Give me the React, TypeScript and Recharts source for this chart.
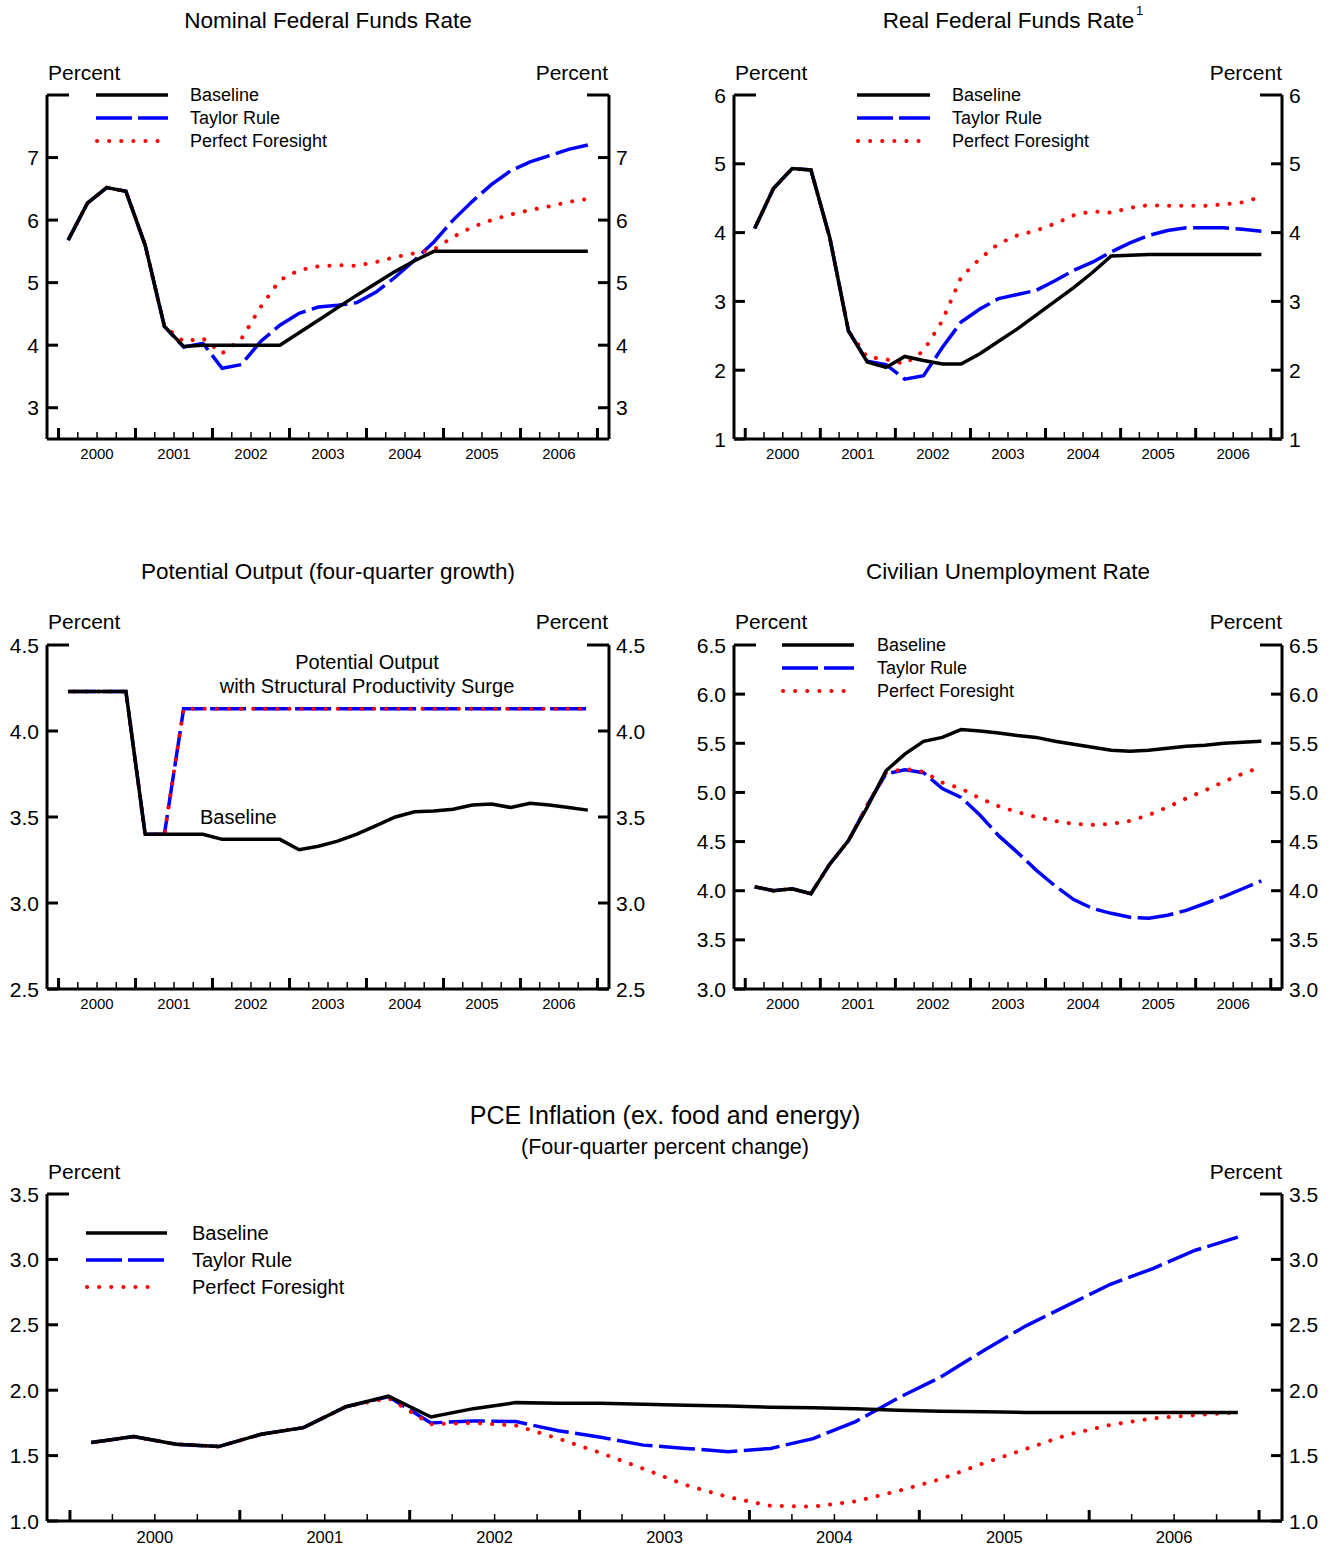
import React from "react";
import { LineChart, Line, XAxis, YAxis } from "recharts";

const FONT = '"Liberation Sans", Arial, Helvetica, sans-serif';

const YEARS = [2000, 2001, 2002, 2003, 2004, 2005, 2006];
const QUARTERS = [1, 2, 3, 4];

// Nominal federal funds rate, 2000Q1-2006Q4
const NOM_BASE = [5.68, 6.27, 6.52, 6.46, 5.6, 4.3, 3.98, 4.0, 4.0, 4.0, 4.0, 4.0, 4.2, 4.4, 4.6, 4.8, 4.99, 5.18, 5.35, 5.5, 5.5, 5.5, 5.5, 5.5, 5.5, 5.5, 5.5, 5.5];
const NOM_TAYLOR = [5.68, 6.27, 6.52, 6.46, 5.6, 4.3, 3.97, 4.03, 3.63, 3.69, 4.06, 4.32, 4.51, 4.61, 4.64, 4.68, 4.85, 5.09, 5.36, 5.65, 6.0, 6.3, 6.57, 6.79, 6.93, 7.03, 7.13, 7.2];
const NOM_PF = [5.68, 6.27, 6.52, 6.46, 5.6, 4.3, 4.06, 4.11, 3.87, 4.1, 4.61, 5.04, 5.2, 5.26, 5.28, 5.27, 5.33, 5.41, 5.47, 5.53, 5.73, 5.89, 6.0, 6.09, 6.16, 6.22, 6.29, 6.34];

// Real federal funds rate
const REAL_BASE = [4.06, 4.64, 4.93, 4.91, 3.93, 2.57, 2.12, 2.04, 2.2, 2.14, 2.09, 2.09, 2.24, 2.42, 2.6, 2.8, 3.0, 3.2, 3.42, 3.66, 3.67, 3.68, 3.68, 3.68, 3.68, 3.68, 3.68, 3.68];
const REAL_TAYLOR = [4.06, 4.64, 4.93, 4.91, 3.93, 2.57, 2.13, 2.08, 1.87, 1.92, 2.33, 2.7, 2.89, 3.04, 3.1, 3.16, 3.3, 3.45, 3.57, 3.72, 3.85, 3.96, 4.03, 4.07, 4.07, 4.07, 4.05, 4.02];
const REAL_PF = [4.06, 4.64, 4.93, 4.91, 3.93, 2.57, 2.19, 2.16, 2.09, 2.28, 2.72, 3.35, 3.62, 3.84, 3.96, 4.03, 4.13, 4.25, 4.31, 4.29, 4.36, 4.4, 4.39, 4.39, 4.39, 4.41, 4.44, 4.52];

// Potential output growth
const POT_BASE = [4.23, 4.23, 4.23, 4.23, 3.4, 3.4, 3.4, 3.4, 3.37, 3.37, 3.37, 3.37, 3.31, 3.33, 3.36, 3.4, 3.45, 3.5, 3.53, 3.535, 3.545, 3.57, 3.575, 3.555, 3.58, 3.57, 3.555, 3.54];
const POT_SURGE = [4.23, 4.23, 4.23, 4.23, 3.4, 3.4, 4.13, 4.13, 4.13, 4.13, 4.13, 4.13, 4.13, 4.13, 4.13, 4.13, 4.13, 4.13, 4.13, 4.13, 4.13, 4.13, 4.13, 4.13, 4.13, 4.13, 4.13, 4.13];

// Civilian unemployment rate
const UNEMP_BASE = [4.04, 4.0, 4.02, 3.97, 4.27, 4.51, 4.85, 5.22, 5.39, 5.52, 5.56, 5.64, 5.625, 5.605, 5.58, 5.56, 5.52, 5.49, 5.46, 5.43, 5.42, 5.43, 5.45, 5.47, 5.48, 5.5, 5.51, 5.52];
const UNEMP_TAYLOR = [4.04, 4.0, 4.02, 3.97, 4.27, 4.51, 4.87, 5.19, 5.23, 5.2, 5.04, 4.95, 4.77, 4.56, 4.39, 4.21, 4.05, 3.91, 3.82, 3.77, 3.73, 3.72, 3.75, 3.8, 3.87, 3.94, 4.02, 4.1];
const UNEMP_PF = [4.04, 4.0, 4.02, 3.97, 4.27, 4.51, 4.87, 5.2, 5.24, 5.21, 5.1, 5.04, 4.94, 4.86, 4.8, 4.75, 4.71, 4.68, 4.67, 4.68, 4.71, 4.77, 4.85, 4.94, 5.02, 5.11, 5.19, 5.26];

// Core PCE inflation
const PCE_BASE = [1.6, 1.645, 1.587, 1.569, 1.663, 1.714, 1.874, 1.955, 1.795, 1.859, 1.905, 1.9, 1.9, 1.893, 1.884, 1.879, 1.87, 1.865, 1.858, 1.847, 1.84, 1.835, 1.83, 1.83, 1.83, 1.83, 1.83, 1.83];
const PCE_TAYLOR = [1.6, 1.645, 1.587, 1.569, 1.663, 1.714, 1.874, 1.95, 1.75, 1.765, 1.76, 1.69, 1.64, 1.58, 1.555, 1.53, 1.555, 1.63, 1.76, 1.94, 2.1, 2.3, 2.49, 2.65, 2.81, 2.93, 3.07, 3.17];
const PCE_PF = [1.6, 1.645, 1.587, 1.569, 1.663, 1.714, 1.874, 1.94, 1.74, 1.75, 1.73, 1.63, 1.52, 1.4, 1.275, 1.183, 1.116, 1.11, 1.15, 1.23, 1.32, 1.44, 1.55, 1.66, 1.735, 1.785, 1.81, 1.83];

const NOM_TICKS = [3, 4, 5, 6, 7, 8];
const REAL_TICKS = [1, 2, 3, 4, 5, 6];
const POT_TICKS = [2.5, 3.0, 3.5, 4.0, 4.5];
const UNEMP_TICKS = [3.0, 3.5, 4.0, 4.5, 5.0, 5.5, 6.0, 6.5];
const PCE_TICKS = [1.0, 1.5, 2.0, 2.5, 3.0, 3.5];

const LEGEND_NAMES = ["Baseline", "Taylor Rule", "Perfect Foresight"];

// quarter midpoints in fractional years, and quarter boundaries for tick marks
const DATES = YEARS.flatMap((y) => QUARTERS.map((q) => y + (q - 0.5) / 4));
const QTR_TICKS = [...YEARS.flatMap((y) => QUARTERS.map((q) => y + (q - 1) / 4)), 2007];

const BLUE = "#0000ff";
const RED = "#ff0000";
const DASH = "36 6.5";
const DOTS = "0.1 12";

function rows(base: number[], taylor: number[], pf: number[]) {
  return DATES.map((t, i) => ({ t, base: base[i], taylor: taylor[i], pf: pf[i] }));
}

function makeXTick(fontSize: number, gap: number) {
  return (props: any) => {
    const { x, y, payload } = props;
    const v = payload.value;
    const major = Number.isInteger(v);
    const label = Math.abs((v % 1) - 0.5) < 1e-6;
    return (
      <g>
        <line x1={x} x2={x} y1={y} y2={y - (major ? 11 : 7)} stroke="#000" strokeWidth={major ? 3 : 1.5} />
        {label && (
          <text x={x} y={y + gap} dy="0.72em" textAnchor="middle" fontSize={fontSize} fontFamily={FONT} fill="#000">
            {Math.floor(v)}
          </text>
        )}
      </g>
    );
  };
}

function makeYTick(side: "left" | "right", top: number, hidden: number[], digits: number) {
  return (props: any) => {
    const { x, y, payload } = props;
    const v = payload.value;
    const len = v === top ? 22 : 11;
    const dir = side === "left" ? 1 : -1;
    return (
      <g>
        <line x1={x} x2={x + dir * len} y1={y} y2={y} stroke="#000" strokeWidth={3} />
        {!hidden.includes(v) && (
          <text
            x={side === "left" ? x - 8 : x + 7}
            y={y}
            dominantBaseline="central"
            textAnchor={side === "left" ? "end" : "start"}
            fontSize={21}
            fontFamily={FONT}
            fill="#000"
          >
            {v.toFixed(digits)}
          </text>
        )}
      </g>
    );
  };
}

function seriesLines(keys: { base: string; taylor: string; pf: string }) {
  return [
    <Line key="taylor" yAxisId="left" dataKey={keys.taylor} type="linear" stroke={BLUE} strokeWidth={3.5} strokeDasharray={DASH} strokeDashoffset={8} dot={false} activeDot={false} isAnimationActive={false} />,
    <Line key="pf" yAxisId="left" dataKey={keys.pf} type="linear" stroke={RED} strokeWidth={4} strokeDasharray={DOTS} strokeDashoffset={6} strokeLinecap="round" dot={false} activeDot={false} isAnimationActive={false} />,
    <Line key="base" yAxisId="left" dataKey={keys.base} type="linear" stroke="#000" strokeWidth={3.5} dot={false} activeDot={false} isAnimationActive={false} />,
  ];
}

type PanelProps = {
  left: number;
  top: number;
  width: number;
  height: number;
  leftW: number;
  rightW: number;
  data: any[];
  yDomain: [number, number];
  yTicks: number[];
  hidden: number[];
  digits: number;
  xDomain: [number, number];
  yearFont: number;
  xHeight: number;
  keys: { base: string; taylor: string; pf: string };
};

function Panel(p: PanelProps) {
  const axis = { stroke: "#000", strokeWidth: 3 };
  return (
    <div style={{ position: "absolute", left: p.left, top: p.top }}>
      <LineChart width={p.width} height={p.height} data={p.data} margin={{ top: 15, right: 0, bottom: 0, left: 0 }}>
        <XAxis
          dataKey="t"
          type="number"
          domain={p.xDomain}
          allowDataOverflow
          ticks={QTR_TICKS}
          interval={0}
          height={p.xHeight}
          tickSize={0}
          tickMargin={0}
          tickLine={false}
          axisLine={axis}
          tick={makeXTick(p.yearFont, p.yearFont === 15 ? 9 : 10)}
        />
        <YAxis
          yAxisId="left"
          type="number"
          domain={p.yDomain}
          allowDataOverflow
          ticks={p.yTicks}
          interval={0}
          width={p.leftW}
          tickSize={0}
          tickMargin={0}
          tickLine={false}
          axisLine={axis}
          tick={makeYTick("left", p.yDomain[1], p.hidden, p.digits)}
        />
        <YAxis
          yAxisId="right"
          orientation="right"
          type="number"
          domain={p.yDomain}
          allowDataOverflow
          ticks={p.yTicks}
          interval={0}
          width={p.rightW}
          tickSize={0}
          tickMargin={0}
          tickLine={false}
          axisLine={axis}
          tick={makeYTick("right", p.yDomain[1], p.hidden, p.digits)}
        />
        {seriesLines(p.keys)}
      </LineChart>
    </div>
  );
}

function Label(props: { x: number; y: number; size: number; anchor?: string; children: React.ReactNode }) {
  return (
    <text x={props.x} y={props.y} fontSize={props.size} textAnchor={props.anchor || "start"} dominantBaseline="central" fontFamily={FONT} fill="#000">
      {props.children}
    </text>
  );
}

function LegendBlock(props: { x1: number; x2: number; tx: number; ys: number[]; size: number }) {
  const { x1, x2, tx, ys, size } = props;
  return (
    <g>
      <line x1={x1} x2={x2} y1={ys[0]} y2={ys[0]} stroke="#000" strokeWidth={3.5} />
      <line x1={x1} x2={x2} y1={ys[1]} y2={ys[1]} stroke={BLUE} strokeWidth={3.5} strokeDasharray="36 6" />
      <line x1={x1 + 1} x2={x2 - 8} y1={ys[2]} y2={ys[2]} stroke={RED} strokeWidth={4} strokeDasharray={DOTS} strokeLinecap="round" />
      {LEGEND_NAMES.map((n, i) => (
        <Label key={n} x={tx} y={ys[i]} size={size}>
          {n}
        </Label>
      ))}
    </g>
  );
}

const X_DOMAIN: [number, number] = [1999.85, 2007.15];
const X_DOMAIN_WIDE: [number, number] = [1999.865, 2007.135];
const KEYS = { base: "base", taylor: "taylor", pf: "pf" };
const POT_KEYS = { base: "base", taylor: "surge", pf: "surge" };

export default function App() {
  const nom = rows(NOM_BASE, NOM_TAYLOR, NOM_PF);
  const real = rows(REAL_BASE, REAL_TAYLOR, REAL_PF);
  const pot = DATES.map((t, i) => ({ t, base: POT_BASE[i], surge: POT_SURGE[i] }));
  const unemp = rows(UNEMP_BASE, UNEMP_TAYLOR, UNEMP_PF);
  const pce = rows(PCE_BASE, PCE_TAYLOR, PCE_PF);

  return (
    <div style={{ position: "absolute", left: 0, top: 0, width: 1334, height: 1549, background: "#fff", overflow: "hidden" }}>
      <Panel left={0} top={80} width={660} height={389} leftW={47} rightW={51} data={nom} yDomain={[2.5, 8]} yTicks={NOM_TICKS} hidden={[8]} digits={0} xDomain={X_DOMAIN} yearFont={15} xHeight={30} keys={KEYS} />
      <Panel left={680} top={80} width={654} height={389} leftW={54} rightW={52} data={real} yDomain={[1, 6]} yTicks={REAL_TICKS} hidden={[]} digits={0} xDomain={X_DOMAIN} yearFont={15} xHeight={30} keys={KEYS} />
      <Panel left={0} top={630} width={660} height={389} leftW={47} rightW={51} data={pot} yDomain={[2.5, 4.5]} yTicks={POT_TICKS} hidden={[]} digits={1} xDomain={X_DOMAIN} yearFont={15} xHeight={30} keys={POT_KEYS} />
      <Panel left={680} top={630} width={654} height={389} leftW={54} rightW={52} data={unemp} yDomain={[3, 6.5]} yTicks={UNEMP_TICKS} hidden={[]} digits={1} xDomain={X_DOMAIN} yearFont={15} xHeight={30} keys={KEYS} />
      <Panel left={0} top={1179} width={1334} height={370} leftW={47} rightW={52} data={pce} yDomain={[1, 3.5]} yTicks={PCE_TICKS} hidden={[]} digits={1} xDomain={X_DOMAIN_WIDE} yearFont={16.5} xHeight={28} keys={KEYS} />

      <svg width={1334} height={1549} style={{ position: "absolute", left: 0, top: 0, pointerEvents: "none" }}>
        {/* top row */}
        <Label x={328} y={20} size={22.5} anchor="middle">Nominal Federal Funds Rate</Label>
        <Label x={48} y={72} size={21}>Percent</Label>
        <Label x={608} y={72} size={21} anchor="end">Percent</Label>
        <LegendBlock x1={96} x2={168} tx={190} ys={[95, 118, 141]} size={18} />

        <Label x={1008.5} y={20} size={22.5} anchor="middle">Real Federal Funds Rate</Label>
        <Label x={1136} y={10} size={13}>1</Label>
        <Label x={735} y={72} size={21}>Percent</Label>
        <Label x={1282} y={72} size={21} anchor="end">Percent</Label>
        <LegendBlock x1={857} x2={930} tx={952} ys={[95, 118, 141]} size={18} />

        {/* middle row */}
        <Label x={328} y={571} size={22.5} anchor="middle">Potential Output (four-quarter growth)</Label>
        <Label x={48} y={621} size={21}>Percent</Label>
        <Label x={608} y={621} size={21} anchor="end">Percent</Label>
        <Label x={367} y={662} size={20} anchor="middle">Potential Output</Label>
        <Label x={367} y={686} size={20} anchor="middle">with Structural Productivity Surge</Label>
        <Label x={200} y={817} size={20}>Baseline</Label>

        <Label x={1008} y={571} size={22.5} anchor="middle">Civilian Unemployment Rate</Label>
        <Label x={735} y={621} size={21}>Percent</Label>
        <Label x={1282} y={621} size={21} anchor="end">Percent</Label>
        <LegendBlock x1={782} x2={854} tx={877} ys={[645, 668, 691]} size={18} />

        {/* bottom */}
        <Label x={665} y={1115} size={25} anchor="middle">PCE Inflation (ex. food and energy)</Label>
        <Label x={665} y={1147} size={21.5} anchor="middle">(Four-quarter percent change)</Label>
        <Label x={48} y={1171} size={21}>Percent</Label>
        <Label x={1282} y={1171} size={21} anchor="end">Percent</Label>
        <LegendBlock x1={86} x2={167} tx={192} ys={[1233, 1260, 1287]} size={20} />
      </svg>
    </div>
  );
}
